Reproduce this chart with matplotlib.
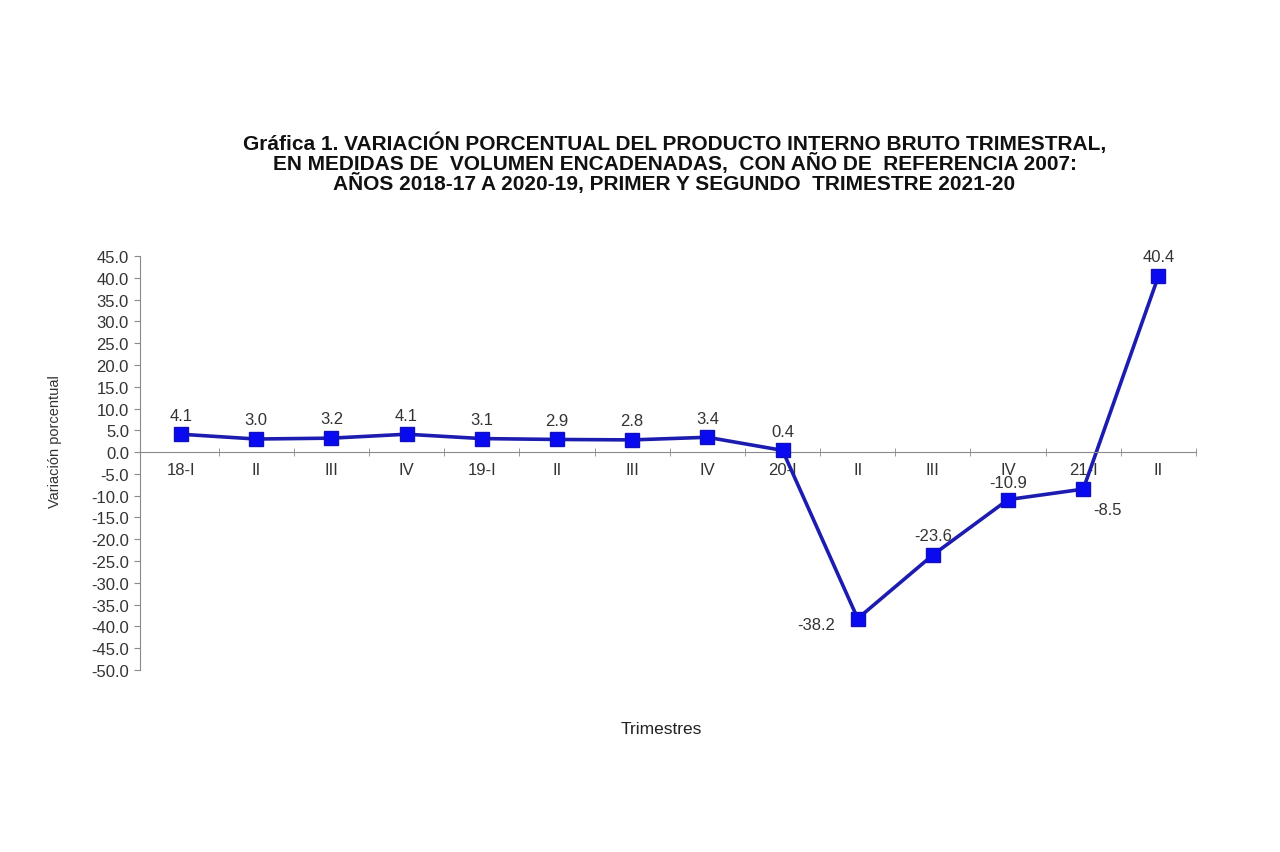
import matplotlib
matplotlib.use("Agg")
import matplotlib.pyplot as plt
from matplotlib.ticker import MultipleLocator, FixedLocator, FuncFormatter

categories = ["18-I", "II", "III", "IV", "19-I", "II", "III", "IV",
              "20-I", "II", "III", "IV", "21-I", "II"]
values = [4.1, 3.0, 3.2, 4.1, 3.1, 2.9, 2.8, 3.4, 0.4, -38.2, -23.6, -10.9, -8.5, 40.4]

title = ("Gráfica 1. VARIACIÓN PORCENTUAL DEL PRODUCTO INTERNO BRUTO TRIMESTRAL,\n"
         "EN MEDIDAS DE  VOLUMEN ENCADENADAS,  CON AÑO DE  REFERENCIA 2007:\n"
         "AÑOS 2018-17 A 2020-19, PRIMER Y SEGUNDO  TRIMESTRE 2021-20")

plt.rcParams['font.family'] = ['Liberation Sans', 'DejaVu Sans']

fig = plt.figure(figsize=(12.8, 8.53), dpi=100)
ax = fig.add_axes([0.1094, 0.2134, 0.8250, 0.4853])

x = list(range(len(categories)))
ax.plot(x, values, color="#1c1cb0", lw=2.6, zorder=2)
ax.plot(x, values, ls="none", marker="s", ms=10, mfc="#0a0af0",
        mec="#1010c0", mew=1, zorder=3)

x0, x1 = -0.545, len(categories) - 0.5
ax.set_xlim(x0, x1)
ax.set_ylim(-50, 45)

for s in ["top", "right"]:
    ax.spines[s].set_visible(False)
ax.spines["bottom"].set_position(("data", 0))
ax.spines["bottom"].set_color("#8a8a8a")
ax.spines["left"].set_color("#8a8a8a")
ax.spines["left"].set_bounds(-50, 45)
ax.spines["bottom"].set_bounds(x0, x1)

ax.yaxis.set_major_locator(MultipleLocator(5))
ax.yaxis.set_major_formatter(FuncFormatter(lambda v, p: f"{v:.1f}"))
ax.tick_params(axis="y", direction="out", length=4, color="#8a8a8a",
               labelsize=12, labelcolor="#333333", pad=4)

ax.set_xticks(x)
ax.set_xticklabels(categories)
ax.tick_params(axis="x", which="major", length=0, labelsize=12,
               labelcolor="#333333", pad=7)
ax.xaxis.set_minor_locator(FixedLocator([i + 0.5 for i in range(len(categories))]))
ax.tick_params(axis="x", which="minor", direction="inout", length=6, color="#8a8a8a")

offsets = {9: (-0.55, -1.3), 11: (0, 3.9), 12: (0.32, -4.6)}
for i, v in enumerate(values):
    dx, dy = offsets.get(i, (0, 4.4))
    ax.text(i + dx, v + dy, f"{v:.1f}", ha="center", va="center",
            fontsize=12, color="#333333")

ax.set_ylabel("Variación porcentual", fontsize=10.5, color="#333333")
ax.set_xlabel("Trimestres", fontsize=12.5, color="#222222")
ax.xaxis.set_label_coords(0.494, -0.123)
ax.yaxis.set_label_coords(-0.074, 0.553)

fig.text(0.527, 0.845, title, ha="center", va="top", fontsize=15,
         fontweight="bold", linespacing=0.95, color="#111111")

fig.savefig("out.png", dpi=100, facecolor="white")
